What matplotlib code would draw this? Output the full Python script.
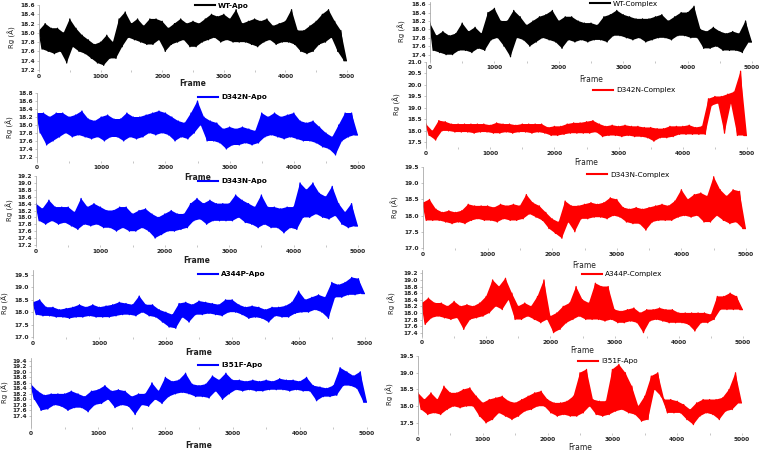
import numpy as np
import matplotlib
matplotlib.use("Agg")
import matplotlib.pyplot as plt

# upper / lower edge of each trace, read every 100 frames (0 .. 4900)
wt_apo_hi = [18.05, 18.2, 18.1, 18.1, 18.0, 18.3, 18.1, 17.95, 17.85, 17.75,
             17.8, 17.95, 17.8, 18.3, 18.45, 18.2, 18.3, 18.15, 18.3, 18.3,
             18.25, 18.1, 18.2, 18.3, 18.2, 18.25, 18.2, 18.3, 18.4, 18.35,
             18.4, 18.3, 18.5, 18.2, 18.25, 18.3, 18.25, 18.3, 18.15, 18.2,
             18.25, 18.5, 18.05, 18.05, 18.15, 18.25, 18.4, 18.5, 18.25, 18.05]
wt_apo_lo = [17.65, 17.6, 17.55, 17.6, 17.35, 17.7, 17.6, 17.55, 17.45, 17.35,
             17.3, 17.45, 17.45, 17.7, 17.9, 17.85, 17.8, 17.75, 17.75, 17.85,
             17.6, 17.75, 17.8, 17.85, 17.7, 17.7, 17.8, 17.85, 17.9, 17.8,
             17.85, 17.8, 17.8, 17.8, 17.75, 17.7, 17.8, 17.85, 17.75, 17.8,
             17.8, 17.75, 17.6, 17.55, 17.6, 17.75, 17.8, 17.9, 17.6, 17.4]

d342n_apo_hi = [18.3, 18.3, 18.2, 18.3, 18.3, 18.2, 18.25, 18.35, 18.15, 18.1,
                18.2, 18.25, 18.15, 18.15, 18.3, 18.2, 18.2, 18.25, 18.3, 18.35,
                18.3, 18.2, 18.1, 18.05, 18.3, 18.6, 18.2, 18.1, 18.05, 17.9,
                17.95, 17.9, 17.95, 17.9, 17.85, 18.3, 18.2, 18.3, 18.2, 18.25,
                18.3, 18.1, 18.05, 18.1, 17.95, 17.8, 17.7, 18.0, 18.3, 18.3]
d342n_apo_lo = [17.8, 17.5, 17.6, 17.7, 17.8, 17.7, 17.75, 17.7, 17.65, 17.7,
                17.6, 17.7, 17.7, 17.6, 17.7, 17.65, 17.7, 17.8, 17.75, 17.8,
                17.75, 17.6, 17.7, 17.65, 17.8, 18.0, 17.6, 17.6, 17.55, 17.4,
                17.5, 17.5, 17.55, 17.5, 17.55, 17.7, 17.75, 17.7, 17.65, 17.7,
                17.65, 17.6, 17.6, 17.55, 17.45, 17.4, 17.25, 17.6, 17.7, 17.75]

d343n_apo_hi = [18.4, 18.25, 18.5, 18.3, 18.3, 18.3, 18.15, 18.55, 18.3, 18.4,
                18.3, 18.2, 18.2, 18.3, 18.3, 18.1, 18.2, 18.25, 18.1, 18.0,
                18.1, 18.2, 18.1, 18.1, 18.4, 18.55, 18.4, 18.5, 18.4, 18.4,
                18.4, 18.65, 18.5, 18.4, 18.3, 18.65, 18.3, 18.3, 18.25, 18.3,
                18.3, 19.0, 18.8, 19.0, 18.7, 18.6, 18.9, 18.4, 18.15, 18.4]
d343n_apo_lo = [17.9, 17.8, 17.9, 17.8, 17.85, 17.75, 17.65, 17.8, 17.75, 17.8,
                17.7, 17.7, 17.6, 17.7, 17.6, 17.6, 17.7, 17.6, 17.4, 17.5,
                17.6, 17.6, 17.65, 17.7, 17.9, 17.95, 17.8, 17.9, 17.9, 17.9,
                17.9, 18.0, 17.85, 17.8, 17.7, 17.8, 17.7, 17.7, 17.55, 17.7,
                17.65, 18.0, 18.0, 18.1, 18.0, 17.95, 18.05, 17.8, 17.7, 17.75]

a344p_apo_hi = [18.4, 18.5, 18.2, 18.2, 18.1, 18.15, 18.2, 18.3, 18.2, 18.3,
                18.2, 18.25, 18.3, 18.4, 18.35, 18.3, 18.65, 18.3, 18.3, 18.1,
                18.0, 17.9, 18.35, 18.4, 18.3, 18.45, 18.4, 18.35, 18.3, 18.5,
                18.5, 18.3, 18.2, 18.25, 18.2, 18.1, 18.2, 18.2, 18.25, 18.4,
                18.85, 18.5, 18.6, 18.7, 18.6, 19.2, 19.1, 19.2, 19.4, 19.35]
a344p_apo_lo = [17.9, 17.85, 17.85, 17.8, 17.8, 17.75, 17.8, 17.8, 17.85, 17.8,
                17.8, 17.8, 17.85, 17.9, 17.9, 17.85, 18.0, 17.85, 17.8, 17.6,
                17.4, 17.35, 17.8, 17.6, 17.9, 17.9, 17.95, 17.9, 17.85, 18.0,
                18.0, 17.9, 17.75, 17.8, 17.75, 17.6, 17.85, 17.8, 17.8, 17.95,
                18.0, 18.0, 18.1, 18.0, 17.75, 18.6, 18.6, 18.7, 18.7, 18.75]

i351f_apo_hi = [18.55, 18.3, 18.15, 18.2, 18.2, 18.2, 18.3, 18.2, 18.1, 18.3,
                18.35, 18.5, 18.3, 18.35, 18.3, 18.1, 18.2, 18.2, 18.6, 18.3,
                18.8, 18.65, 18.7, 18.95, 18.55, 18.5, 18.55, 18.85, 18.7, 18.95,
                18.7, 18.7, 18.65, 18.7, 18.65, 18.7, 18.65, 18.75, 18.7, 18.7,
                18.65, 18.8, 18.5, 18.45, 18.4, 18.5, 19.15, 19.0, 18.85, 19.0]
i351f_apo_lo = [18.0, 17.6, 17.65, 17.8, 17.75, 17.6, 17.7, 17.7, 17.55, 17.8,
                17.85, 18.0, 17.7, 17.8, 17.75, 17.45, 17.8, 17.75, 18.0, 17.85,
                18.1, 18.2, 18.25, 18.2, 18.1, 18.1, 18.05, 18.3, 18.0, 18.2,
                18.35, 18.3, 18.35, 18.3, 18.3, 18.35, 18.35, 18.35, 18.3, 18.35,
                18.3, 18.3, 17.95, 18.1, 18.1, 18.15, 18.5, 18.5, 18.4, 17.9]

wt_cpx_hi = [18.15, 17.85, 17.95, 17.85, 17.9, 18.15, 17.95, 18.05, 17.9, 18.4,
             18.5, 18.2, 18.2, 18.45, 18.3, 18.1, 18.2, 18.3, 18.35, 18.45,
             18.2, 18.3, 18.3, 18.2, 18.15, 18.15, 18.1, 18.3, 18.35, 18.45,
             18.35, 18.3, 18.25, 18.25, 18.25, 18.3, 18.35, 18.2, 18.3, 18.4,
             18.4, 18.55, 18.0, 17.95, 18.05, 17.95, 17.9, 17.95, 17.9, 18.2]
wt_cpx_lo = [17.5, 17.45, 17.4, 17.4, 17.5, 17.5, 17.45, 17.55, 17.5, 17.75,
             17.8, 17.6, 17.35, 17.8, 17.75, 17.6, 17.7, 17.8, 17.75, 17.7,
             17.55, 17.75, 17.7, 17.75, 17.7, 17.75, 17.75, 17.7, 17.85, 17.85,
             17.8, 17.75, 17.8, 17.7, 17.75, 17.8, 17.8, 17.75, 17.85, 17.85,
             17.8, 17.8, 17.55, 17.55, 17.6, 17.5, 17.5, 17.5, 17.45, 17.7]

d342n_cpx_hi = [18.3, 18.0, 18.45, 18.4, 18.3, 18.3, 18.3, 18.3, 18.3, 18.3,
                18.25, 18.35, 18.3, 18.3, 18.25, 18.3, 18.3, 18.3, 18.3, 18.15,
                18.2, 18.2, 18.3, 18.35, 18.35, 18.4, 18.45, 18.3, 18.2, 18.25,
                18.2, 18.25, 18.2, 18.2, 18.15, 18.15, 18.1, 18.1, 18.2, 18.2,
                18.2, 18.25, 18.15, 18.2, 19.4, 19.5, 19.5, 19.6, 19.7, 20.6]
d342n_cpx_lo = [17.8, 17.6, 18.0, 18.0, 17.95, 17.95, 17.95, 17.9, 17.95, 17.95,
                17.9, 17.9, 17.95, 17.9, 17.95, 17.95, 17.9, 17.95, 17.9, 17.8,
                17.8, 17.85, 17.9, 17.9, 17.9, 17.9, 17.95, 17.75, 17.8, 17.8,
                17.75, 17.8, 17.75, 17.75, 17.7, 17.55, 17.7, 17.7, 17.75, 17.85,
                17.85, 17.85, 17.85, 17.85, 19.1, 19.2, 17.9, 19.2, 17.8, 17.8]

d343n_cpx_hi = [18.4, 18.5, 18.2, 18.1, 18.15, 18.1, 18.15, 18.35, 18.3, 18.3,
                18.3, 18.25, 18.35, 18.3, 18.35, 18.3, 18.65, 18.4, 18.3, 18.1,
                17.9, 17.8, 18.45, 18.3, 18.3, 18.35, 18.4, 18.35, 18.4, 18.55,
                18.5, 18.25, 18.2, 18.25, 18.2, 18.25, 18.3, 18.35, 18.3, 18.45,
                18.8, 18.5, 18.65, 18.7, 18.6, 19.2, 18.8, 18.6, 18.8, 18.75]
d343n_cpx_lo = [17.85, 17.85, 17.85, 17.8, 17.75, 17.8, 17.75, 17.85, 17.9, 17.85,
                17.85, 17.8, 17.9, 17.85, 17.85, 17.9, 18.05, 17.95, 17.85, 17.6,
                17.45, 17.3, 17.8, 17.5, 17.9, 17.9, 17.95, 17.95, 17.9, 18.0,
                17.95, 17.8, 17.75, 17.75, 17.55, 17.8, 17.85, 17.85, 17.85, 17.95,
                18.0, 17.95, 18.0, 17.8, 17.8, 18.0, 17.85, 17.75, 17.8, 17.6]

a344p_cpx_hi = [18.3, 18.45, 18.3, 18.3, 18.2, 18.35, 18.2, 18.25, 18.2, 18.3,
                18.5, 19.0, 18.8, 19.05, 18.6, 18.2, 18.3, 18.2, 18.5, 19.0,
                17.9, 18.0, 18.2, 18.3, 18.8, 18.4, 18.3, 18.9, 18.8, 18.8,
                18.1, 18.05, 18.1, 18.15, 18.0, 18.1, 18.1, 18.15, 18.1, 18.1,
                18.0, 18.0, 18.0, 18.0, 18.0, 17.95, 18.5, 18.5, 18.6, 18.5]
a344p_cpx_lo = [17.65, 17.85, 17.9, 17.85, 17.8, 17.85, 17.5, 17.8, 17.85, 17.9,
                18.0, 18.2, 18.1, 18.4, 17.8, 17.8, 17.9, 17.8, 17.7, 17.8,
                17.4, 17.5, 17.7, 17.8, 17.9, 17.8, 17.8, 17.8, 17.75, 17.8,
                17.7, 17.7, 17.75, 17.7, 17.4, 17.75, 17.8, 17.75, 17.7, 17.7,
                17.7, 17.65, 17.45, 17.7, 17.7, 17.8, 18.1, 18.1, 18.1, 18.1]

i351f_red_hi = [18.4, 18.2, 18.4, 18.2, 18.6, 18.4, 18.4, 18.5, 18.55, 18.3,
                18.1, 18.2, 18.25, 18.3, 18.15, 18.1, 18.2, 18.3, 18.4, 18.45,
                18.2, 18.1, 18.1, 18.15, 18.3, 19.0, 19.1, 18.2, 18.15, 18.15,
                19.1, 19.25, 19.0, 18.6, 18.0, 18.3, 18.9, 19.0, 18.2, 18.2,
                18.15, 18.05, 17.9, 18.1, 18.2, 18.2, 18.2, 18.25, 18.5, 19.0]
i351f_red_lo = [17.9, 17.75, 17.8, 17.75, 17.9, 18.0, 17.95, 18.0, 18.0, 17.7,
                17.5, 17.6, 17.8, 17.7, 17.6, 17.7, 17.85, 17.9, 18.0, 18.0,
                17.8, 17.7, 17.75, 17.7, 17.7, 17.8, 18.0, 17.75, 17.7, 17.75,
                17.85, 17.9, 17.8, 17.75, 17.55, 17.6, 18.5, 18.3, 17.8, 17.8,
                17.8, 17.6, 17.45, 17.7, 17.8, 17.75, 17.6, 17.85, 17.9, 18.1]

W, H = 759, 451
fig = plt.figure(figsize=(W / 100, H / 100), dpi=100)
fig.patch.set_facecolor("white")

# label, color, hi, lo, x0px, x1px, ylim, ytop px, ybot px, yticks,
# legend x/y px, bold text, "Frame" top px, "Rg" right px
panels = [
    ("WT-Apo", "black", wt_apo_hi, wt_apo_lo, 39, 347, (17.2, 18.6), 5, 70,
     np.arange(17.2, 18.61, 0.2), 195, 6, True, 79, 16),
    ("D342N-Apo", "#0000ff", d342n_apo_hi, d342n_apo_lo, 37, 358, (17.1, 18.8), 93, 161,
     np.arange(17.2, 18.81, 0.2), 198, 97, True, 173, 14),
    ("D343N-Apo", "#0000ff", d343n_apo_hi, d343n_apo_lo, 36, 358, (17.2, 19.2), 176, 245,
     np.arange(17.2, 19.21, 0.2), 198, 181, True, 256, 14),
    ("A344P-Apo", "#0000ff", a344p_apo_hi, a344p_apo_lo, 33, 365, (17.0, 19.7), 270, 337,
     np.arange(17.0, 19.51, 0.5), 198, 274, True, 348, 9),
    ("I351F-Apo", "#0000ff", i351f_apo_hi, i351f_apo_lo, 31, 367, (17.0, 19.5), 358, 427,
     np.arange(17.4, 19.41, 0.2), 198, 365, True, 441, 9),
    ("WT-Complex", "black", wt_cpx_hi, wt_cpx_lo, 430, 752, (17.25, 18.65), 2, 61,
     np.arange(17.4, 18.61, 0.2), 590, 4, False, 75, 406),
    ("D342N-Complex", "#ff0000", d342n_cpx_hi, d342n_cpx_lo, 426, 747, (17.3, 21.0), 62, 147,
     np.arange(17.5, 21.01, 0.5), 593, 90, False, 158, 401),
    ("D343N-Complex", "#ff0000", d343n_cpx_hi, d343n_cpx_lo, 423, 746, (17.0, 19.5), 167, 248,
     np.arange(17.0, 19.51, 0.5), 587, 175, False, 261, 399),
    ("A344P-Complex", "#ff0000", a344p_cpx_hi, a344p_cpx_lo, 422, 743, (17.3, 19.3), 270, 336,
     np.arange(17.4, 19.21, 0.2), 582, 274, False, 346, 396),
    ("I351F-Apo", "#ff0000", i351f_red_hi, i351f_red_lo, 418, 742, (17.2, 19.5), 356, 433,
     np.arange(17.5, 19.51, 0.5), 578, 361, False, 443, 394),
]

for (label, color, hi, lo, x0, x1, ylim, yt, yb, yticks,
     lgx, lgy, bold, fry, rgx) in panels:
    ax = fig.add_axes([x0 / W, 1 - yb / H, (x1 - x0) / W, (yb - yt) / H])
    ax.patch.set_visible(False)
    n = len(hi)
    x_hi = np.arange(n) * 100.0
    x_lo = np.arange(n) * 100.0 + 50
    # solid band between the upper and lower edges
    ax.fill(np.concatenate([x_hi, [5000], x_lo[::-1]]),
            np.concatenate([hi, [lo[-1]], np.asarray(lo)[::-1]]),
            color=color, lw=0)
    # the trace itself, alternating the read upper and lower edges
    frames = np.empty(2 * n)
    frames[0::2] = x_hi
    frames[1::2] = x_lo
    vals = np.empty(2 * n)
    vals[0::2] = hi
    vals[1::2] = lo
    frames = np.append(frames, 5000)
    vals = np.append(vals, lo[-1])
    ax.plot(frames, vals, color=color, lw=0.9, label=label)
    ax.set_xlim(0, 5000)
    ax.set_ylim(*ylim)
    ax.set_xticks([0, 1000, 2000, 3000, 4000, 5000])
    ax.set_xticks(np.arange(500, 5000, 1000), minor=True)
    ax.set_yticks(yticks)
    ax.set_yticklabels(["{:.1f}".format(v) for v in yticks])
    for s in ["top", "right", "bottom"]:
        ax.spines[s].set_visible(False)
    ax.spines["left"].set_color("#999999")
    ax.spines["left"].set_linewidth(0.5)
    ax.tick_params(axis="both", which="both", labelsize=4.2, length=1.5,
                   width=0.4, color="#999999", pad=1.5, labelcolor="#222222")
    for t in ax.get_xticklabels() + ax.get_yticklabels():
        t.set_fontweight("bold")
    ax.set_xlabel("Frame", fontsize=5.5, color="#222222",
                  fontweight="bold" if bold else "normal")
    ax.xaxis.set_label_coords(0.5, (yb - fry) / (yb - yt))
    ax.set_ylabel("Rg (Å)", fontsize=5, color="#222222")
    ax.yaxis.set_label_coords((rgx - x0) / (x1 - x0), 0.5)
    leg = ax.legend(loc="center left", bbox_to_anchor=(lgx / W, 1 - lgy / H),
                    bbox_transform=fig.transFigure, frameon=False,
                    handlelength=2.8, handletextpad=0.4, borderpad=0,
                    borderaxespad=0,
                    prop={"size": 5.2, "weight": "bold" if bold else "normal"})
    for line in leg.get_lines():
        line.set_linewidth(1.5)

fig.savefig("out.png", dpi=100, facecolor="white")
